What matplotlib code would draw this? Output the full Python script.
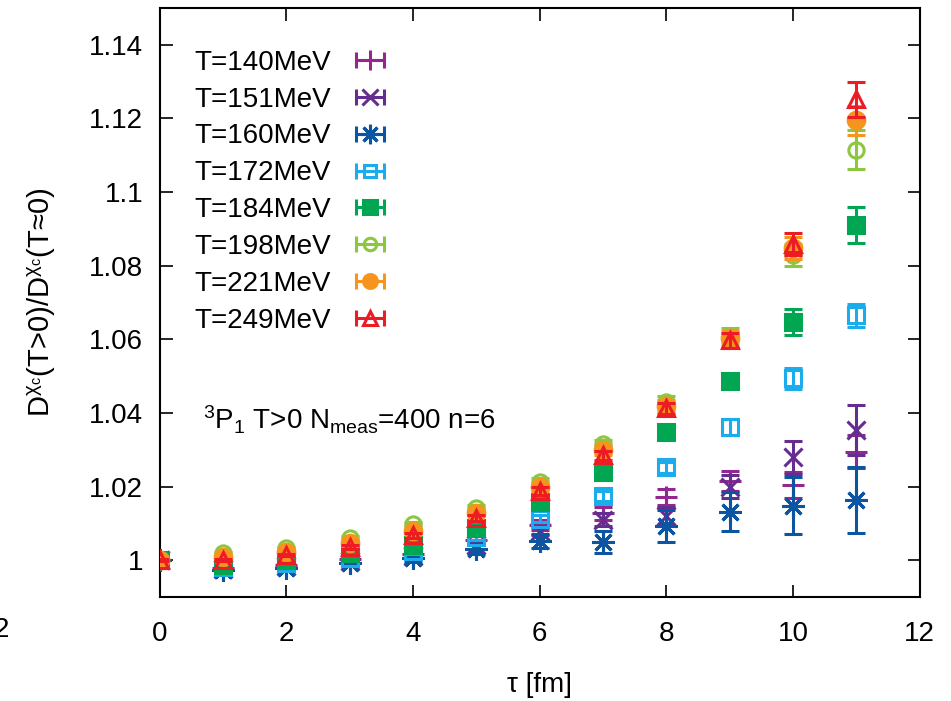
import matplotlib
matplotlib.use("Agg")
import matplotlib.pyplot as plt

plt.rcParams["font.family"] = ["Liberation Sans", "DejaVu Sans"]
plt.rcParams["mathtext.fontset"] = "custom"
plt.rcParams["mathtext.rm"] = "Liberation Sans"
plt.rcParams["mathtext.it"] = "Liberation Sans:italic"
plt.rcParams["font.size"] = 20

tau = [0, 1, 2, 3, 4, 5, 6, 7, 8, 9, 10, 11]

labels = ["T=140MeV", "T=151MeV", "T=160MeV", "T=172MeV",
          "T=184MeV", "T=198MeV", "T=221MeV", "T=249MeV"]

r140 = [1.0, 0.9980, 0.9988, 1.0002, 1.0016, 1.0056, 1.0095, 1.0127, 1.0172, 1.0215, 1.0205, 1.0295]
e140 = [0.0003, 0.0004, 0.0005, 0.0006, 0.0008, 0.0010, 0.0013, 0.0017, 0.0022, 0.0028, 0.0035, 0.0045]
r151 = [1.0, 0.9977, 0.9984, 0.9998, 1.0012, 1.0040, 1.0080, 1.0110, 1.0120, 1.0200, 1.0280, 1.0353]
e151 = [0.0003, 0.0004, 0.0005, 0.0006, 0.0008, 0.0010, 0.0013, 0.0017, 0.0025, 0.0032, 0.0045, 0.0068]
r160 = [1.0, 0.9973, 0.9978, 0.9992, 1.0005, 1.0030, 1.0052, 1.0050, 1.0092, 1.0132, 1.0148, 1.0163]
e160 = [0.0003, 0.0005, 0.0006, 0.0008, 0.0010, 0.0013, 0.0020, 0.0030, 0.0043, 0.0052, 0.0078, 0.0090]
r172 = [1.0, 0.9982, 0.9993, 1.0005, 1.0024, 1.0064, 1.0113, 1.0175, 1.0252, 1.0362, 1.0494, 1.0665]
e172 = [0.0002, 0.0003, 0.0004, 0.0005, 0.0006, 0.0008, 0.0010, 0.0013, 0.0015, 0.0022, 0.0028, 0.0032]
r184 = [1.0, 0.9987, 1.0001, 1.0019, 1.0041, 1.0088, 1.0157, 1.0240, 1.0347, 1.0488, 1.0648, 1.0910]
e184 = [0.0002, 0.0003, 0.0004, 0.0005, 0.0006, 0.0008, 0.0010, 0.0012, 0.0015, 0.0018, 0.0035, 0.0049]
r198 = [1.0, 1.0019, 1.0032, 1.0060, 1.0099, 1.0142, 1.0212, 1.0315, 1.0430, 1.0610, 1.0830, 1.1115]
e198 = [0.0002, 0.0003, 0.0004, 0.0005, 0.0006, 0.0008, 0.0010, 0.0012, 0.0015, 0.0020, 0.0030, 0.0053]
r221 = [1.0, 1.0008, 1.0022, 1.0046, 1.0080, 1.0127, 1.0198, 1.0298, 1.0420, 1.0603, 1.0848, 1.1195]
e221 = [0.0002, 0.0003, 0.0004, 0.0005, 0.0006, 0.0008, 0.0010, 0.0012, 0.0015, 0.0020, 0.0030, 0.0040]
r249 = [1.0, 1.0000, 1.0014, 1.0035, 1.0067, 1.0114, 1.0188, 1.0285, 1.0412, 1.0597, 1.0860, 1.1252]
e249 = [0.0002, 0.0003, 0.0004, 0.0005, 0.0006, 0.0008, 0.0010, 0.0012, 0.0015, 0.0020, 0.0030, 0.0048]

values = [r140, r151, r160, r172, r184, r198, r221, r249]
errors = [e140, e151, e160, e172, e184, e198, e221, e249]

colors = ["#93278f", "#662d91", "#0b55a3", "#1cabeb", "#00a651", "#8dc63f", "#f7941d", "#ed1c24"]
markers = ["+", "x", (8, 2, 0), "s", "s", "o", "o", "^"]
filled = [True, True, True, False, True, False, True, False]
sizes = [16, 13, 16, 11, 12, 11, 12, 12]

fig = plt.figure(figsize=(9.51, 7.01), dpi=100)
ax = fig.add_axes([0.168, 0.1484, 0.799, 0.8402])

handles = []
for i in range(len(labels)):
    c = colors[i]
    face = c if filled[i] else "none"
    ax.errorbar(
        tau, values[i], yerr=errors[i],
        fmt="none", ecolor=c, elinewidth=2.2, capsize=6.5, capthick=2.2,
        zorder=2 + i,
    )
    ax.plot(
        tau, values[i], linestyle="none",
        marker=markers[i], markersize=sizes[i], markeredgewidth=2.2,
        markeredgecolor=c, markerfacecolor=face, zorder=2 + i,
    )
    # legend sample: marker on a horizontal bar with end caps
    h = ax.errorbar(
        [float("nan")], [float("nan")], xerr=[0.1],
        linestyle="none", marker=markers[i], markersize=sizes[i] - 2,
        markeredgewidth=2.2, markeredgecolor=c, markerfacecolor=face,
        ecolor=c, elinewidth=2.2, capsize=6, capthick=2.2,
    )
    handles.append(h)

leg = ax.legend(
    handles, labels, loc="upper left", bbox_to_anchor=(0.031, 0.948),
    frameon=False, markerfirst=False, handlelength=1.0, handletextpad=0.9,
    labelspacing=0.39, borderaxespad=0.0,
)

ax.text(0.68, 1.038, r"$^{3}$P$_{1}$ T>0 N$_{\mathrm{meas}}$=400 n=6",
        ha="left", va="center", fontsize=20)

ax.set_xlim(0, 12)
ax.set_ylim(0.99, 1.15)
ax.set_xticks([0, 2, 4, 6, 8, 10, 12])
ax.set_yticks([1.0, 1.02, 1.04, 1.06, 1.08, 1.1, 1.12, 1.14])
ax.set_yticklabels(["1", "1.02", "1.04", "1.06", "1.08", "1.1", "1.12", "1.14"])
ax.tick_params(direction="in", length=9, width=1.2, top=True, right=True)
ax.tick_params(axis="x", pad=17)
ax.tick_params(axis="y", pad=12)
for s in ax.spines.values():
    s.set_linewidth(1.5)

ax.set_xlabel(r"τ [fm]", labelpad=18)
ax.set_ylabel(r"D$^{\mathregular{χ_c}}$(T>0)/D$^{\mathregular{χ_c}}$(T≈0)",
              labelpad=22, fontsize=21)

# clipped tick label at the left edge
fig.text(0.009, 0.101, "2", ha="right", va="center", fontsize=20)

fig.savefig("out.png", dpi=100)
